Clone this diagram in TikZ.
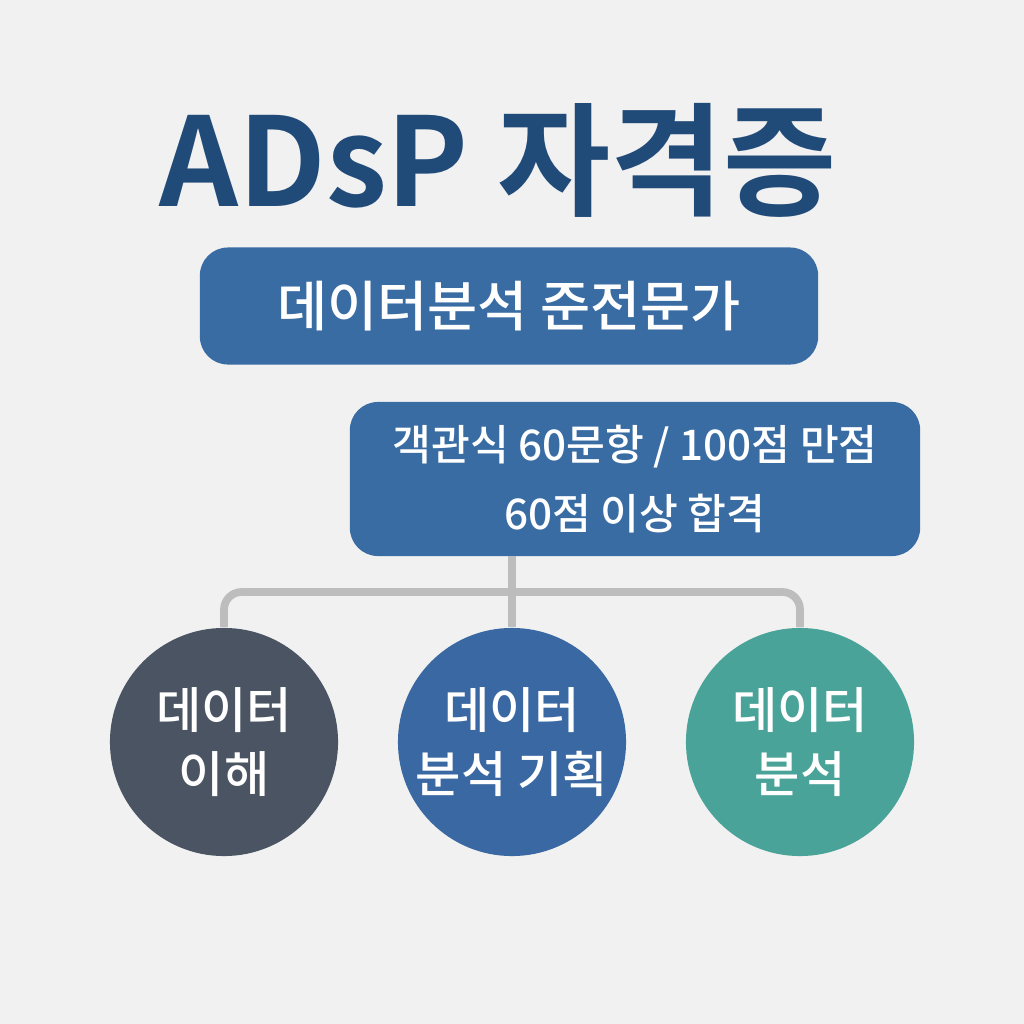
\documentclass[tikz,border=0pt]{standalone}
\usepackage{fontspec}
\setmainfont{Noto Sans CJK KR Medium}
\newfontfamily\kb{Noto Sans CJK KR Bold}
\definecolor{bg}{HTML}{F1F1F1}
\definecolor{title}{HTML}{204A78}
\definecolor{boxc}{HTML}{3A6CA4}
\definecolor{c1}{HTML}{4A5462}
\definecolor{c2}{HTML}{3A68A2}
\definecolor{c3}{HTML}{4AA398}
\definecolor{ln}{HTML}{BDBDBD}
\begin{document}
\begin{tikzpicture}[x=0.01cm,y=-0.01cm,
  box/.style={draw=none,fill=boxc,rounded corners=8pt,text=white,align=center},
  circ/.style={circle,minimum size=2.28cm,inner sep=0pt,text=white,align=center,font=\fontsize{14pt}{18pt}\selectfont},
  conn/.style={draw=ln,line width=2.2pt,rounded corners=5pt}]
\fill[bg] (0,0) rectangle (1024,1024);
\useasboundingbox (0,0) rectangle (1024,1024);
\node[text=title,font=\kb\fontsize{35pt}{38pt}\selectfont] (t) at (498,160) {ADsP 자격증};
\node[box,minimum width=6.18cm,minimum height=1.17cm,font=\fontsize{15.5pt}{18pt}\selectfont] (b1) at (509,306) {데이터분석 준전문가};
\node[box,minimum width=5.7cm,minimum height=1.54cm,font=\fontsize{12pt}{19.5pt}\selectfont] (b2) at (635,479) {객관식 60문항 / 100점 만점\\60점 이상 합격};
\node[circ,fill=c1] (k1) at (224,742) {데이터\\이해};
\node[circ,fill=c2] (k2) at (512,742) {데이터\\분석 기획};
\node[circ,fill=c3] (k3) at (800,742) {데이터\\분석};
\draw[conn] (512,556) -- (k2.north);
\draw[conn] (k1.north) -- (224,592) -- (800,592) -- (k3.north);
\end{tikzpicture}
\end{document}
